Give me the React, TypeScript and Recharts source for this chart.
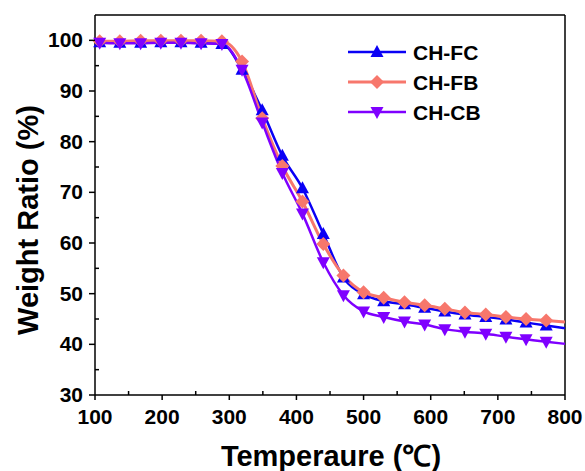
import { LineChart, Line, XAxis, YAxis, ReferenceLine, Label } from "recharts"

// temperature (°C) — marker positions, plus line ends at 100 and 800
const temps = [100, 107, 137, 168, 198, 228, 258, 289, 319, 349, 379, 409, 440, 470, 500, 530, 561, 591, 621, 651, 682, 712, 742, 772, 800]
const chFC = [99.8, 99.6, 99.5, 99.5, 99.6, 99.6, 99.5, 99.3, 94.2, 86.2, 77.2, 70.8, 61.8, 53.2, 49.9, 48.5, 47.9, 47.2, 46.5, 45.9, 45.4, 44.9, 44.3, 43.7, 43.2]
const chFB = [99.9, 99.8, 99.8, 99.9, 99.9, 99.9, 99.9, 99.8, 95.8, 84.6, 75.2, 68.2, 59.8, 53.6, 50.3, 49.2, 48.3, 47.7, 47.0, 46.3, 45.9, 45.4, 45.0, 44.7, 44.4]
const chCB = [99.7, 99.5, 99.4, 99.4, 99.5, 99.5, 99.4, 99.3, 94.2, 83.8, 73.8, 65.8, 56.2, 49.7, 46.5, 45.4, 44.5, 43.9, 43.0, 42.5, 42.1, 41.5, 41.0, 40.5, 40.1]

const xTicks = [100, 150, 200, 250, 300, 350, 400, 450, 500, 550, 600, 650, 700, 750, 800]
const yTicks = [30, 35, 40, 45, 50, 55, 60, 65, 70, 75, 80, 85, 90, 95, 100]

const series = [
  { key: "fc", name: "CH-FC", color: "#0a00f5", width: 2.5, shape: "up" },
  { key: "fb", name: "CH-FB", color: "#f7776c", width: 3, shape: "diamond" },
  { key: "cb", name: "CH-CB", color: "#7f00ff", width: 2.5, shape: "down" },
]

const data = temps.map((t, i) => ({ t, fc: chFC[i], fb: chFB[i], cb: chCB[i] }))

const FONT = "Arial, 'Liberation Sans', sans-serif"

function marker(shape: string, cx: number, cy: number, color: string, key?: string) {
  if (shape === "up") {
    return <path key={key} d={`M${cx},${cy - 7} L${cx + 6.5},${cy + 5} L${cx - 6.5},${cy + 5} Z`} fill={color} />
  }
  if (shape === "down") {
    return <path key={key} d={`M${cx},${cy + 7} L${cx + 6.5},${cy - 5} L${cx - 6.5},${cy - 5} Z`} fill={color} />
  }
  return <path key={key} d={`M${cx},${cy - 7} L${cx + 7},${cy} L${cx},${cy + 7} L${cx - 7},${cy} Z`} fill={color} />
}

const makeDot = (shape: string, color: string) => (props: any) => {
  const { cx, cy, index } = props
  if (index === 0 || index === temps.length - 1) return <g key={`e-${index}`} />
  return marker(shape, cx, cy, color, `d-${index}`)
}

const XTick = (props: any) => {
  const { x, y, payload } = props
  const major = payload.value % 100 === 0
  return (
    <g>
      {major ? (
        <line x1={x} y1={y} x2={x} y2={y + 5} stroke="#000" strokeWidth={1.5} />
      ) : (
        <line x1={x} y1={y} x2={x} y2={y - 4} stroke="#000" strokeWidth={1.5} />
      )}
      {major && (
        <text x={x} y={y + 29} textAnchor="middle" fontFamily={FONT} fontWeight="bold" fontSize={21} fill="#000">
          {payload.value}
        </text>
      )}
    </g>
  )
}

const YTick = (props: any) => {
  const { x, y, payload } = props
  const major = payload.value % 10 === 0
  return (
    <g>
      {major ? (
        <line x1={x} y1={y} x2={x - 6} y2={y} stroke="#000" strokeWidth={1.5} />
      ) : (
        <line x1={x} y1={y} x2={x + 4} y2={y} stroke="#000" strokeWidth={1.5} />
      )}
      {major && (
        <text x={x - 12} y={y + 7} textAnchor="end" fontFamily={FONT} fontWeight="bold" fontSize={21} fill="#000">
          {payload.value}
        </text>
      )}
    </g>
  )
}

const LegendBox = () => (
  <svg width={160} height={90} style={{ position: "absolute", left: 340, top: 38 }}>
    {series.map((s, i) => {
      const y = 14 + i * 30
      return (
        <g key={s.key}>
          <line x1={8} y1={y} x2={66} y2={y} stroke={s.color} strokeWidth={s.width} />
          {marker(s.shape, 37, y, s.color)}
          <text x={73} y={y + 8} fontFamily={FONT} fontWeight="bold" fontSize={21} fill="#000">
            {s.name}
          </text>
        </g>
      )
    })}
  </svg>
)

export default function App() {
  return (
    <div style={{ position: "fixed", left: 0, top: 0, width: 585, height: 471, background: "#fff" }}>
      <LineChart width={585} height={471} data={data} margin={{ top: 15, right: 20, bottom: 0, left: 0 }}>
        <XAxis
          dataKey="t"
          type="number"
          domain={[100, 800]}
          ticks={xTicks}
          tick={<XTick />}
          tickSize={0}
          tickMargin={0}
          tickLine={false}
          height={76}
          axisLine={{ stroke: "#000", strokeWidth: 1.5 }}
          interval={0}
        >
          <Label
            content={() => (
              <text x={331} y={466} textAnchor="middle" fontFamily={FONT} fontWeight="bold" fontSize={29} fill="#000">
                Temperaure (℃)
              </text>
            )}
          />
        </XAxis>
        <YAxis
          type="number"
          domain={[30, 105]}
          ticks={yTicks}
          tick={<YTick />}
          tickSize={0}
          tickMargin={0}
          tickLine={false}
          width={95}
          axisLine={{ stroke: "#000", strokeWidth: 1.5 }}
          interval={0}
        >
          <Label
            content={() => (
              <text
                transform="translate(28,220) rotate(-90)"
                dy="0.35em"
                textAnchor="middle"
                fontFamily={FONT}
                fontWeight="bold"
                fontSize={29}
                fill="#000"
              >
                Weight Ratio (%)
              </text>
            )}
          />
        </YAxis>
        <ReferenceLine y={105} stroke="#000" strokeWidth={1.5} />
        <ReferenceLine x={800} stroke="#000" strokeWidth={1.5} />
        {series.map((s) => (
          <Line
            key={s.key}
            dataKey={s.key}
            name={s.name}
            type="monotone"
            stroke={s.color}
            strokeWidth={s.width}
            dot={makeDot(s.shape, s.color)}
            activeDot={false}
            isAnimationActive={false}
          />
        ))}
      </LineChart>
      <LegendBox />
    </div>
  )
}
